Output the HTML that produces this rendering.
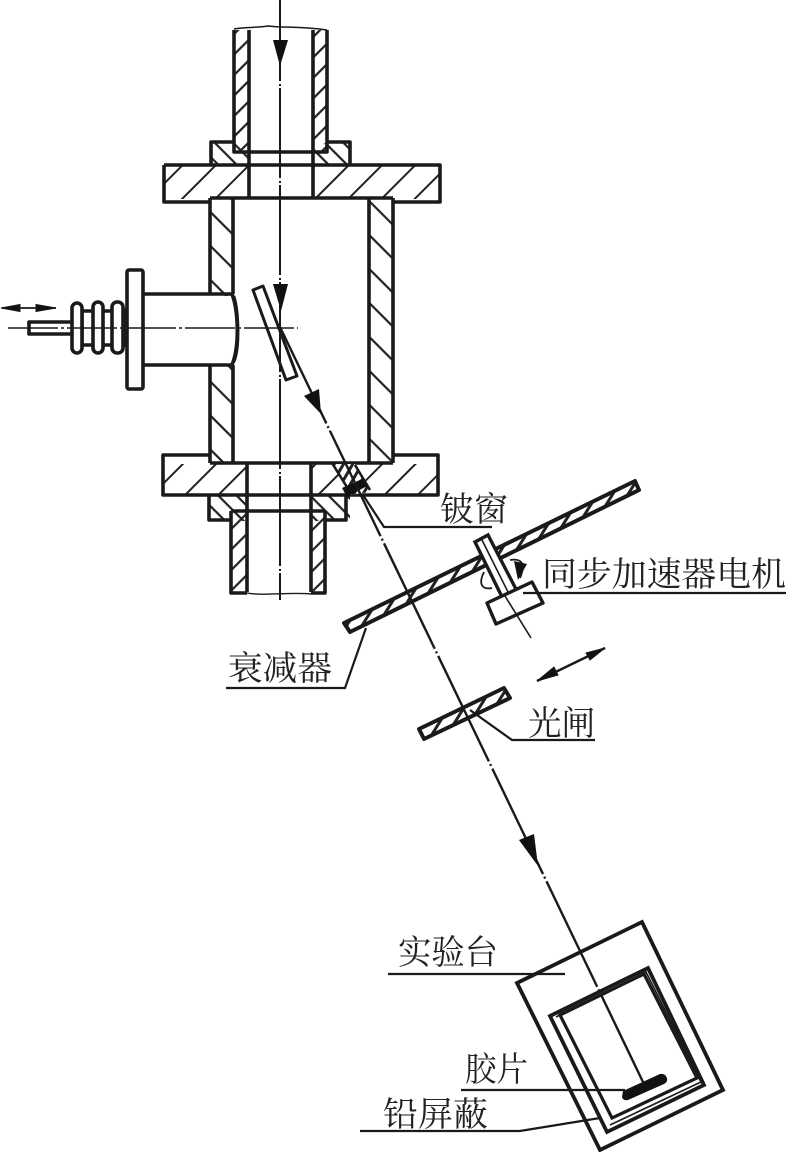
<!DOCTYPE html>
<html><head><meta charset="utf-8"><style>
html,body{margin:0;padding:0;background:#fff}
svg{display:block}
text{font-family:"Liberation Sans","Noto Serif CJK SC","Noto Sans CJK SC",serif;font-size:34px;fill:#222}
</style></head><body>
<svg xmlns="http://www.w3.org/2000/svg" width="786" height="1152" viewBox="0 0 786 1152">
<defs>
<pattern id="hf" width="23.5" height="23.5" patternUnits="userSpaceOnUse" patternTransform="translate(14,0) rotate(-45)"><rect width="23.5" height="2" fill="#222"/></pattern>
<pattern id="ht" width="14.5" height="14.5" patternUnits="userSpaceOnUse" patternTransform="rotate(-45)"><rect width="14.5" height="2.2" fill="#222"/></pattern>
<pattern id="hb" width="13" height="13" patternUnits="userSpaceOnUse" patternTransform="rotate(45)"><rect width="13" height="2.2" fill="#222"/></pattern>
<pattern id="hw" width="24" height="24" patternUnits="userSpaceOnUse" patternTransform="rotate(45)"><rect width="24" height="2.2" fill="#222"/></pattern>
<pattern id="hd" width="13" height="13" patternUnits="userSpaceOnUse" patternTransform="rotate(-58)"><rect width="13" height="3" fill="#222"/></pattern>
<pattern id="hs" width="8" height="8" patternUnits="userSpaceOnUse" patternTransform="rotate(-60)"><rect width="8" height="3" fill="#222"/></pattern>
</defs>
<rect width="786" height="1152" fill="#fff"/>

<!-- hatch fills -->
<g stroke="none">
<rect x="235" y="30" width="14" height="122" fill="url(#ht)"/>
<rect x="313" y="30" width="14" height="122" fill="url(#ht)"/>
<rect x="212" y="143" width="37" height="22" fill="url(#hb)"/>
<rect x="313" y="143" width="37" height="22" fill="url(#hb)"/>
<rect x="165" y="166" width="84" height="33" fill="url(#hf)"/>
<rect x="313" y="166" width="126" height="33" fill="url(#hf)"/>
<rect x="211" y="199" width="22" height="264" fill="url(#hw)"/>
<rect x="369" y="199" width="24" height="264" fill="url(#hw)"/>
<rect x="164" y="464" width="83" height="31" fill="url(#hf)"/>
<rect x="312" y="464" width="126" height="31" fill="url(#hf)"/>
<rect x="210" y="495" width="37" height="26" fill="url(#hb)"/>
<rect x="312" y="495" width="38" height="26" fill="url(#hb)"/>
<rect x="232" y="511" width="15" height="82" fill="url(#ht)"/>
<rect x="311" y="511" width="14" height="82" fill="url(#ht)"/>
</g>

<!-- cleared region for solenoid in left wall -->
<rect x="209" y="296" width="24" height="68" fill="#fff"/>

<g fill="none" stroke="#1a1a1a" stroke-width="3.6" stroke-linejoin="round">
<!-- upper tube -->
<path d="M234 30V152H327V30"/>
<path d="M249 30V198M313 30V198"/>
<path d="M234 29C245 27 255 28 268 26C285 28 300 26 327 30" stroke-width="1.5"/>
<!-- upper collar -->
<path d="M234 142H211V165M327 142H350V165"/>
<!-- upper flange -->
<path d="M164 165H440V202H393M210 202H164V165"/>
<path d="M210 198H393"/>
<!-- body -->
<path d="M210 198V294M210 365V463M233 198V294M233 365V463"/>
<path d="M369 198V463M393 198V463"/>
<!-- lower flange -->
<path d="M210 455H163V495H438V455H393"/>
<path d="M210 463H393"/>
<path d="M247 463V592M311 463V592"/>
<!-- lower collar -->
<path d="M209 495V520H231M325 520H346V495"/>
<path d="M231 511H325"/>
<path d="M231 511V593H247M311 593H325V511"/>
<path d="M247 593C262 596 290 592 311 594" stroke-width="1.4"/>
<!-- solenoid -->
<rect x="127" y="270" width="16" height="119" rx="2" fill="#fff"/>
<path d="M143 294H232C238 310 240 345 232 365H143"/>
<path d="M234 296C239 312 240 348 234 362" stroke-width="2.6"/>
<rect x="82" y="311" width="42" height="34" fill="#fff"/>
<rect x="72" y="303" width="10" height="50" rx="5" fill="#fff"/>
<rect x="93" y="302" width="10" height="51" rx="5" fill="#fff"/>
<rect x="112" y="302" width="11" height="51" rx="5" fill="#fff"/>
<path d="M123 309H126V346H123" stroke-width="2"/>
<path d="M72 322H29V334H72"/>
<!-- mirror -->
<path d="M253 290L263 286L297 376L286 380Z" fill="#fff" stroke-width="3"/>
</g>

<!-- Be window -->
<polygon points="332,464 355,464 370,492 350,495" fill="#fff"/>
<polygon points="332,464 355,464 370,492 350,495" fill="url(#hs)"/>
<g stroke="#1a1a1a" stroke-width="2.6" fill="none">
<path d="M332 463L350 492M355 465L370 490"/>
</g>
<path d="M342 488L362 479L367 486L347 497Z" fill="#111"/>

<!-- attenuator disk -->
<polygon points="343,622 635,480 639,491 350,633" fill="#fff"/>
<polygon points="343,622 635,480 639,491 350,633" fill="url(#hd)"/>
<polygon points="392,609 425,593 428,599 395,615" fill="#fff"/>
<polygon points="344,623 635,481 639,490 350,632" fill="none" stroke="#1a1a1a" stroke-width="4" stroke-linejoin="round"/>

<!-- shaft + motor -->
<polygon points="475,542 488,535 519,595 505,603" fill="#fff" stroke="#1a1a1a" stroke-width="3.4"/>
<path d="M481 538L512 600" stroke="#1a1a1a" stroke-width="1.6"/>
<polygon points="487,603 532,582 543,603 496,624" fill="#fff" stroke="#1a1a1a" stroke-width="3.4" stroke-linejoin="round"/>
<path d="M505 596L531 638" stroke="#1a1a1a" stroke-width="1.6"/>
<path d="M484 572C478 584 482 590 492 588M510 560C522 558 526 564 520 578" fill="none" stroke="#1a1a1a" stroke-width="1.8"/>
<polygon points="514,561 527,564 518,580" fill="#111"/>

<!-- shutter -->
<polygon points="418,728 504,687 510,699 424,740" fill="#fff"/>
<polygon points="418,728 504,687 510,699 424,740" fill="url(#hd)"/>
<polygon points="419,729 504,688 510,698 424,739" fill="none" stroke="#1a1a1a" stroke-width="4" stroke-linejoin="round"/>

<!-- center lines -->
<g fill="none" stroke="#1a1a1a">
<path d="M280 0V600" stroke-width="2" stroke-dasharray="90 3 2 2" stroke-dashoffset="9"/>
<path d="M8 328H298" stroke-width="1.6" stroke-dasharray="50 3 3 3"/>
<path d="M280 327L643 1082" stroke-width="2.4" stroke-dasharray="117 3 2 3" stroke-dashoffset="10"/>
</g>

<!-- table -->
<g fill="none" stroke="#1a1a1a" stroke-linejoin="miter">
<polygon points="517,983 642,922 723,1090 600,1150" stroke-width="3.8"/>
<polygon points="550,1016 648,968 704,1085 607,1132" stroke-width="3.8"/>
<polygon points="560,1015 644,974 697,1078 612,1118" stroke-width="3.2"/>
<path d="M556 1017L646 972L701 1082L610 1125" stroke-width="1.6"/>
</g>
<path d="M623 1091L660 1074Q665 1073 667 1078Q668 1082 664 1084L628 1100Q623 1101 622 1097Z" fill="#111"/>

<!-- arrowheads -->
<g fill="#111">
<polygon points="273,40 288,40 280,66"/>
<polygon points="273,284 288,284 281,311"/>
<polygon points="304,396 319,389 321,414"/>
<polygon points="519,840 534,834 538,866"/>
</g>

<!-- small double arrows -->
<g stroke="#1a1a1a" fill="#111">
<path d="M2 308H56" stroke-width="1.8"/>
<polygon points="1,308 20,304.5 20,311.5"/>
<polygon points="36,304.5 56,308 36,311.5"/>
<path d="M537 681L605 648" stroke-width="2.4"/>
<polygon points="537,681 554,667 558,675"/>
<polygon points="605,648 586,653 590,660"/>
</g>

<!-- leaders -->
<g fill="none" stroke="#1a1a1a" stroke-width="2.2">
<path d="M363 495L384 527H492"/>
<path d="M523 593H786"/>
<path d="M226 688H345L366 628"/>
<path d="M470 710L512 740H595"/>
<path d="M388 974H565"/>
<path d="M461 1090H625"/>
<path d="M360 1131H520L600 1118"/>
</g>

<!-- labels -->
<text x="440" y="521" textLength="68" lengthAdjust="spacingAndGlyphs">铍窗</text>
<text x="542" y="586" textLength="244" lengthAdjust="spacingAndGlyphs">同步加速器电机</text>
<text x="228" y="680" textLength="104" lengthAdjust="spacingAndGlyphs">衰减器</text>
<text x="528" y="735" textLength="67" lengthAdjust="spacingAndGlyphs">光闸</text>
<text x="398" y="964" textLength="100" lengthAdjust="spacingAndGlyphs">实验台</text>
<text x="465" y="1081" textLength="63" lengthAdjust="spacingAndGlyphs">胶片</text>
<text x="383" y="1126" textLength="105" lengthAdjust="spacingAndGlyphs">铅屏蔽</text>
</svg>
</body></html>
